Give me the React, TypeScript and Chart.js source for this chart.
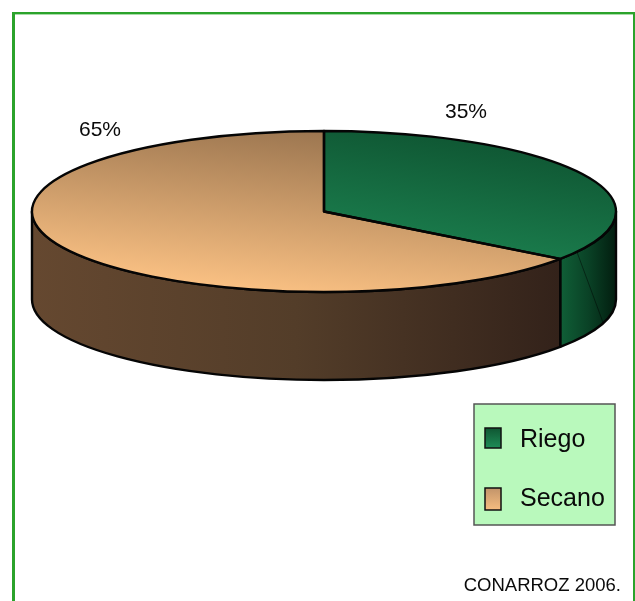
import React, { useEffect, useRef } from "react";
import { Chart, registerables } from "chart.js";

Chart.register(...registerables);

// Land share by water regime
const categories = ["Riego", "Secano"];
const shares = [35, 65];
const sourceNote = "CONARROZ 2006.";

const FONT = '"Liberation Sans", Arial, sans-serif';
const CENTER_Y = 211.5;
const SQUASH = 80.5 / 292;
const DEPTH = 88;

// Top-face gradient stops, one pair per category: light end, dark end
const topStops = [
  ["#1f8c57", "#0d4f2e"],
  ["#f8bf82", "#9c7650"],
];
// Side-wall gradient stops, left to right across the visible wall
const wallStops = [
  ["#105f37", "#0a4226", "#021d0f"],
  ["#654830", "#533d29", "#33221a"],
];

type ArcEl = { x: number; y: number; outerRadius: number; startAngle: number; endAngle: number };

const deg = (d: number) => (d * Math.PI) / 180;

const pie3d = {
  id: "pie3d",
  beforeDatasetsDraw(chart: any) {
    const ctx: CanvasRenderingContext2D = chart.ctx;
    const arcs: ArcEl[] = chart.getDatasetMeta(0).data;
    const { x, outerRadius: rx } = arcs[0];
    const ry = rx * SQUASH;

    ctx.save();
    arcs.forEach((arc, i) => {
      // Only the front half of the cylinder wall can be seen
      const a0 = Math.max(arc.startAngle, 0);
      const a1 = Math.min(arc.endAngle, Math.PI);
      if (a1 <= a0) return;
      const left = x + rx * Math.cos(a1);
      const right = x + rx * Math.cos(a0);
      const grad = ctx.createLinearGradient(left, 0, right, 0);
      wallStops[i].forEach((c, j) => grad.addColorStop(j / 2, c));
      ctx.beginPath();
      ctx.ellipse(x, CENTER_Y, rx, ry, 0, a0, a1);
      ctx.ellipse(x, CENTER_Y + DEPTH, rx, ry, 0, a1, a0, true);
      ctx.closePath();
      ctx.fillStyle = grad;
      ctx.fill();
      ctx.strokeStyle = "#050505";
      ctx.lineWidth = 2.4;
      ctx.lineJoin = "round";
      ctx.stroke();
    });

    // Faint seam across the green wall
    ctx.beginPath();
    ctx.moveTo(x + rx * Math.cos(deg(30)), CENTER_Y + ry * Math.sin(deg(30)));
    ctx.lineTo(x + rx * Math.cos(deg(17)), CENTER_Y + DEPTH + ry * Math.sin(deg(17)));
    ctx.strokeStyle = "rgba(0,0,0,0.45)";
    ctx.lineWidth = 1;
    ctx.stroke();
    ctx.restore();

    // The library's arcs are drawn flattened onto the top face
    ctx.save();
    ctx.translate(x, CENTER_Y);
    ctx.scale(1, SQUASH);
    ctx.translate(-x, -arcs[0].y);
  },
  afterDatasetsDraw(chart: any) {
    const ctx: CanvasRenderingContext2D = chart.ctx;
    ctx.restore();
    const arcs: ArcEl[] = chart.getDatasetMeta(0).data;
    const { x, outerRadius: rx } = arcs[0];
    const ry = rx * SQUASH;

    ctx.save();
    ctx.strokeStyle = "#050505";
    ctx.lineWidth = 2.4;
    ctx.lineJoin = "round";
    arcs.forEach((arc) => {
      ctx.beginPath();
      ctx.moveTo(x, CENTER_Y);
      ctx.ellipse(x, CENTER_Y, rx, ry, 0, arc.startAngle, arc.endAngle);
      ctx.closePath();
      ctx.stroke();
    });
    ctx.restore();
  },
};

const frame = {
  id: "frame",
  beforeDraw(chart: any) {
    const ctx: CanvasRenderingContext2D = chart.ctx;
    ctx.save();
    ctx.fillStyle = "#ffffff";
    ctx.fillRect(0, 0, 635, 601);
    ctx.fillStyle = "#a9dca9";
    ctx.fillRect(15, 14, 618, 1);
    ctx.fillStyle = "#2ba32b";
    ctx.fillRect(12, 12, 623, 2);
    ctx.fillRect(12, 12, 3, 589);
    ctx.fillRect(633, 12, 2, 589);
    ctx.restore();
  },
};

const annotations = {
  id: "annotations",
  afterDraw(chart: any) {
    const ctx: CanvasRenderingContext2D = chart.ctx;
    const labels: string[] = chart.data.labels;
    const values: number[] = chart.data.datasets[0].data;
    ctx.save();
    ctx.fillStyle = "#0a0a0a";
    ctx.textBaseline = "middle";

    // Percentage labels
    ctx.font = `21px ${FONT}`;
    ctx.textAlign = "center";
    ctx.fillText(`${values[0]}%`, 466, 112);
    ctx.fillText(`${values[1]}%`, 100, 130);

    // Legend panel
    ctx.fillStyle = "#b9f9bc";
    ctx.fillRect(474, 404, 141, 121);
    ctx.strokeStyle = "#555555";
    ctx.lineWidth = 1.5;
    ctx.strokeRect(474, 404, 141, 121);

    const rows = [
      { top: 428, h: 20, textY: 440 },
      { top: 488, h: 22, textY: 499 },
    ];
    const swatches = [
      ["#0f5632", "#1f8c57"],
      ["#c2946a", "#f6bd80"],
    ];
    labels.forEach((label, i) => {
      const row = rows[i];
      const g = ctx.createLinearGradient(0, row.top, 0, row.top + row.h);
      g.addColorStop(0, swatches[i][0]);
      g.addColorStop(1, swatches[i][1]);
      ctx.fillStyle = g;
      ctx.fillRect(485, row.top, 16, row.h);
      ctx.strokeStyle = "#111111";
      ctx.lineWidth = 1.5;
      ctx.strokeRect(485, row.top, 16, row.h);
      ctx.fillStyle = "#0a0a0a";
      ctx.font = `25px ${FONT}`;
      ctx.textAlign = "left";
      ctx.fillText(label, 520, row.textY);
    });

    // Source note
    ctx.font = `18.5px ${FONT}`;
    ctx.textAlign = "right";
    ctx.fillText(sourceNote, 621, 586);
    ctx.restore();
  },
};

export default function App() {
  const ref = useRef<HTMLCanvasElement>(null);

  useEffect(() => {
    document.body.style.margin = "0";
    const chart = new Chart(ref.current as HTMLCanvasElement, {
      type: "pie",
      data: {
        labels: categories,
        datasets: [
          {
            data: shares,
            borderWidth: 0,
            clip: false,
            backgroundColor: (c: any) => {
              const area = c.chart.chartArea;
              const stops = topStops[c.dataIndex] || topStops[0];
              if (!area) return stops[0];
              const cx = (area.left + area.right) / 2;
              const cy = (area.top + area.bottom) / 2;
              const r = (area.right - area.left) / 2;
              // Light at the lower left, darkening toward the upper right
              const g = c.chart.ctx.createLinearGradient(
                cx - (c.dataIndex === 0 ? 0.05 : 0.6) * r,
                cy + 0.8 * r,
                cx + (c.dataIndex === 0 ? 0.95 : 0.1) * r,
                cy - 0.95 * r,
              );
              g.addColorStop(0, stops[0]);
              g.addColorStop(1, stops[1]);
              return g;
            },
          } as any,
        ],
      },
      options: {
        responsive: false,
        animation: false,
        layout: { padding: { left: 32, right: 19, top: 8, bottom: 9 } },
        events: [],
        plugins: {
          legend: { display: false },
          tooltip: { enabled: false },
          title: { display: false },
        },
      },
      plugins: [frame, pie3d, annotations],
    });
    return () => chart.destroy();
  }, []);

  return <canvas ref={ref} width={635} height={601} style={{ display: "block" }} />;
}
